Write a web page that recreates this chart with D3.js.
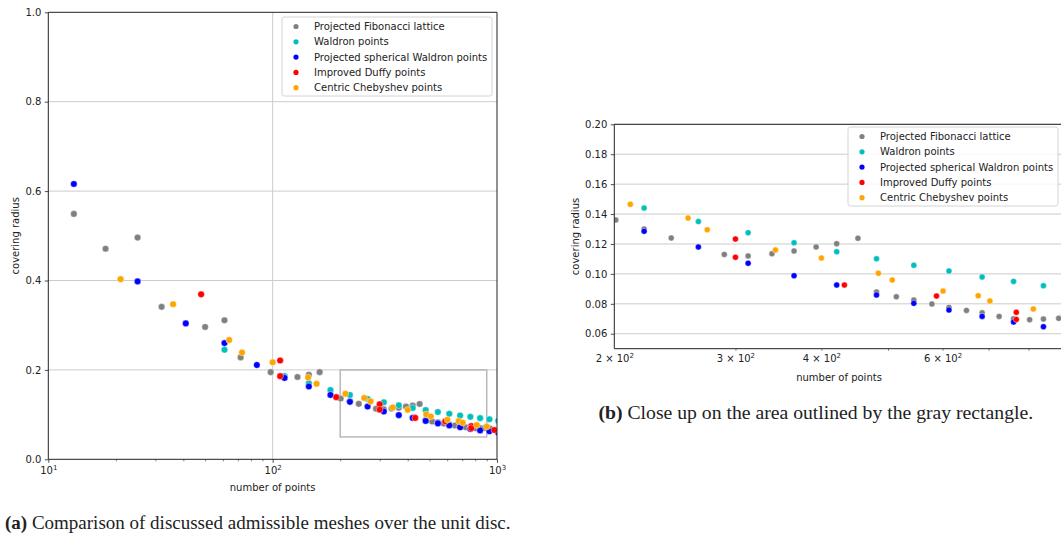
<!DOCTYPE html>
<html>
<head>
<meta charset="utf-8">
<script src="https://cdn.jsdelivr.net/npm/d3@7"></script>
<style>
  body { margin: 0; background: #fff; }
  svg text { font-family: "DejaVu Sans", sans-serif; fill: #222; }
  text.caption { font-family: "Liberation Serif", serif; }
</style>
</head>
<body>
<script>
// covering radius vs number of points, two views of the same data

var width = 1061;
var height = 538;

// series: number of points (N) and covering radius (R)
var fibN = [13, 18, 25, 32, 50, 61, 72, 98, 129, 145, 162, 201, 221, 242, 289, 313, 339, 365, 393, 421, 452, 481, 514, 545, 579, 613, 650, 685, 725, 761, 803, 841, 885, 930];
var fibR = [0.549, 0.471, 0.496, 0.341, 0.296, 0.311, 0.228, 0.195, 0.184, 0.189, 0.195, 0.136, 0.130, 0.124, 0.113, 0.112, 0.1135, 0.1153, 0.118, 0.1202, 0.1238, 0.0879, 0.0847, 0.0825, 0.0799, 0.0776, 0.0756, 0.0740, 0.0716, 0.0700, 0.0694, 0.0698, 0.0703, 0.069];

var waldronN = [61, 113, 145, 181, 221, 265, 313, 365, 421, 481, 545, 613, 685, 761, 841, 925, 1013];
var waldronR = [0.245, 0.186, 0.170, 0.155, 0.144, 0.135, 0.1275, 0.1208, 0.1148, 0.1101, 0.1057, 0.1019, 0.0979, 0.0950, 0.0921, 0.0895, 0.086];

var sphN = [13, 25, 41, 61, 85, 113, 145, 181, 221, 265, 313, 365, 421, 481, 545, 613, 685, 761, 841, 925, 1013];
var sphR = [0.616, 0.398, 0.304, 0.260, 0.211, 0.182, 0.163, 0.144, 0.1285, 0.118, 0.1071, 0.0988, 0.0926, 0.0859, 0.0803, 0.0758, 0.0716, 0.0678, 0.0647, 0.0626, 0.060];

var duffyN = [48, 108, 108, 192, 300, 300, 432, 588, 768, 768, 972];
var duffyR = [0.369, 0.221, 0.186, 0.139, 0.1233, 0.1111, 0.0926, 0.0852, 0.0743, 0.0696, 0.0655];

var chebN = [21, 36, 64, 73, 100, 144, 157, 211, 256, 273, 343, 400, 484, 507, 601, 676, 703, 813, 900];
var chebR = [0.403, 0.347, 0.267, 0.239, 0.217, 0.183, 0.169, 0.1465, 0.1373, 0.1295, 0.116, 0.1106, 0.1004, 0.0959, 0.0885, 0.0854, 0.0819, 0.0765, 0.073];

var seriesNames = ['Projected Fibonacci lattice', 'Waldron points', 'Projected spherical Waldron points', 'Improved Duffy points', 'Centric Chebyshev points'];
var seriesColors = ['#808080', '#00bfbf', '#0000ff', '#ff0000', '#ffa500'];
var seriesN = [fibN, waldronN, sphN, duffyN, chebN];
var seriesR = [fibR, waldronR, sphR, duffyR, chebR];

// tick values
var leftYTicks = [0, 0.2, 0.4, 0.6, 0.8, 1.0];
var leftXMajor = [10, 100, 1000];
var rightYTicks = [0.06, 0.08, 0.10, 0.12, 0.14, 0.16, 0.18, 0.20];
var rightXMinor = [300, 400, 500, 600, 700, 800, 900];
var rightXLabelled = [200, 300, 400, 600];

// outlined zoom region
var boxN = [200, 900];
var boxR = [0.05, 0.2];

var svg = d3.select('body').append('svg')
  .attr('width', width)
  .attr('height', height);

var points = [];
seriesN.forEach(function(ns, s) {
  ns.forEach(function(n, i) {
    points.push({ s: s, n: n, r: seriesR[s][i] });
  });
});

var drawPanel = function(opt) {
  var x = opt.x, y = opt.y;
  var x0 = x.range()[0], x1 = x.range()[1];
  var yb = y.range()[0], yt = y.range()[1];
  var g = svg.append('g');

  g.append('clipPath').attr('id', opt.id)
    .append('rect')
    .attr('x', x0).attr('y', yt)
    .attr('width', x1 - x0).attr('height', yb - yt);

  // grid
  g.selectAll('.hgrid').data(opt.yGrid).enter().append('line')
    .attr('x1', x0).attr('x2', x1)
    .attr('y1', function(d) { return y(d); })
    .attr('y2', function(d) { return y(d); })
    .attr('stroke', '#cccccc').attr('stroke-width', 1);
  g.selectAll('.vgrid').data(opt.xGrid).enter().append('line')
    .attr('y1', yt).attr('y2', yb)
    .attr('x1', function(d) { return x(d); })
    .attr('x2', function(d) { return x(d); })
    .attr('stroke', '#cccccc').attr('stroke-width', 1);

  if (opt.box) {
    g.append('rect')
      .attr('x', x(boxN[0])).attr('y', y(boxR[1]))
      .attr('width', x(boxN[1]) - x(boxN[0]))
      .attr('height', y(boxR[0]) - y(boxR[1]))
      .attr('fill', 'none').attr('stroke', '#b8b8b8').attr('stroke-width', 1.5);
  }

  g.append('g').attr('clip-path', 'url(#' + opt.id + ')')
    .selectAll('circle').data(points).enter().append('circle')
    .attr('cx', function(d) { return x(d.n); })
    .attr('cy', function(d) { return y(d.r); })
    .attr('r', opt.dot)
    .attr('fill', function(d) { return seriesColors[d.s]; })
    .attr('stroke', '#fff').attr('stroke-width', 0.4);

  // y axis
  var ya = g.append('g').attr('transform', 'translate(' + x0 + ',0)')
    .call(d3.axisLeft(y).tickValues(opt.yTicks).tickSize(3.5).tickPadding(3.5).tickFormat(d3.format(opt.yFmt)));
  // x axis
  var xa = opt.xAxis(g, yb);

  [ya, xa].forEach(function(a) {
    a.selectAll('.domain').remove();
    a.selectAll('.tick line').attr('stroke', '#222').attr('stroke-width', 0.8);
    a.selectAll('text').attr('font-size', 10).attr('font-family', '"DejaVu Sans", sans-serif').attr('fill', '#222');
  });

  // spines
  g.append('path')
    .attr('d', 'M' + x0 + ',' + yt + 'H' + x1 + 'V' + yb + 'H' + x0 + 'Z')
    .attr('fill', 'none').attr('stroke', '#222').attr('stroke-width', 1);

  g.append('text')
    .attr('transform', 'translate(' + opt.yLabelX + ',' + (yt + yb) / 2 + ') rotate(-90)')
    .attr('text-anchor', 'middle').attr('dy', '0.35em')
    .attr('font-size', 10).text('covering radius');
  g.append('text')
    .attr('x', opt.xLabelCx).attr('y', yb + 32)
    .attr('text-anchor', 'middle')
    .attr('font-size', 10).text('number of points');

  // legend
  var lg = g.append('g').attr('transform', 'translate(' + opt.legend[0] + ',' + opt.legend[1] + ')');
  lg.append('rect')
    .attr('width', 210).attr('height', 79).attr('rx', 2.5)
    .attr('fill', '#fff').attr('fill-opacity', 0.85)
    .attr('stroke', '#d4d4d4').attr('stroke-width', 1);
  var items = lg.selectAll('.item').data(seriesNames).enter().append('g')
    .attr('transform', function(d, i) { return 'translate(0,' + (9.5 + i * 15.3) + ')'; });
  items.append('circle').attr('cx', 14).attr('r', 2.6)
    .attr('fill', function(d, i) { return seriesColors[i]; });
  items.append('text').attr('x', 32).attr('dy', '0.35em')
    .attr('font-size', 10).text(function(d) { return d; });
};

var supLabel = function(sel, pre, exp) {
  sel.text(null);
  sel.append('tspan').text(pre);
  sel.append('tspan').attr('dy', -4.5).attr('font-size', 7).text(exp);
};

// (a) full view
var xA = d3.scaleLog().domain([10, 1000]).range([48.3, 497]);
var yA = d3.scaleLinear().domain([0, 1]).range([459.3, 12.3]);
drawPanel({
  id: 'clipA', x: xA, y: yA, dot: 3.3, box: true,
  yGrid: [0.2, 0.4, 0.6, 0.8], xGrid: [100],
  yTicks: leftYTicks, yFmt: '.1f',
  yLabelX: 15, xLabelCx: xA(100), legend: [282, 17],
  xAxis: function(g, yb) {
    var minors = [];
    [10, 100].forEach(function(b) { for (var k = 2; k <= 9; k++) minors.push(b * k); });
    g.append('g').attr('transform', 'translate(0,' + yb + ')')
      .call(d3.axisBottom(xA).tickValues(minors).tickSize(2).tickFormat(function() { return ''; }))
      .call(function(a) { a.selectAll('.domain').remove(); a.selectAll('.tick line').attr('stroke', '#222').attr('stroke-width', 0.6); });
    var a = g.append('g').attr('transform', 'translate(0,' + yb + ')')
      .call(d3.axisBottom(xA).tickValues(leftXMajor).tickSize(3.5).tickPadding(4.5).tickFormat(function() { return ''; }));
    a.selectAll('.tick text').each(function(d) {
      supLabel(d3.select(this), '10', String(Math.round(Math.log10(d))));
    });
    return a;
  }
});

// (b) close up
var xB = d3.scaleLog().domain(boxN).range([614.3, 1063.7]);
var yB = d3.scaleLinear().domain(boxR).range([348.7, 124.3]);
drawPanel({
  id: 'clipB', x: xB, y: yB, dot: 3.0, box: false,
  yGrid: rightYTicks, xGrid: [],
  yTicks: rightYTicks, yFmt: '.2f',
  yLabelX: 575, xLabelCx: 839, legend: [848, 127],
  xAxis: function(g, yb) {
    g.append('g').attr('transform', 'translate(0,' + yb + ')')
      .call(d3.axisBottom(xB).tickValues(rightXMinor).tickSize(2).tickFormat(function() { return ''; }))
      .call(function(a) { a.selectAll('.domain').remove(); a.selectAll('.tick line').attr('stroke', '#222').attr('stroke-width', 0.6); });
    var a = g.append('g').attr('transform', 'translate(0,' + yb + ')')
      .call(d3.axisBottom(xB).tickValues(rightXLabelled).tickSize(0).tickPadding(6.5).tickFormat(function() { return ''; }));
    a.selectAll('.tick text').each(function(d) {
      supLabel(d3.select(this), (d / 100) + ' \u00d7 10', '2');
    });
    return a;
  }
});

// captions, sized to the width they span in the figure
var caption = function(x, yb, bold, rest, target) {
  var t = svg.append('text').attr('class', 'caption')
    .attr('x', x).attr('y', yb).attr('font-size', 15).attr('fill', '#111');
  t.append('tspan').attr('font-weight', 'bold').text(bold);
  t.append('tspan').text(rest);
  var w = t.node().getComputedTextLength();
  t.attr('font-size', 15 * target / w);
};
caption(5, 529, '(a)', ' Comparison of discussed admissible meshes over the unit disc.', 506);
caption(598.5, 419, '(b)', ' Close up on the area outlined by the gray rectangle.', 435);
</script>
</body>
</html>
